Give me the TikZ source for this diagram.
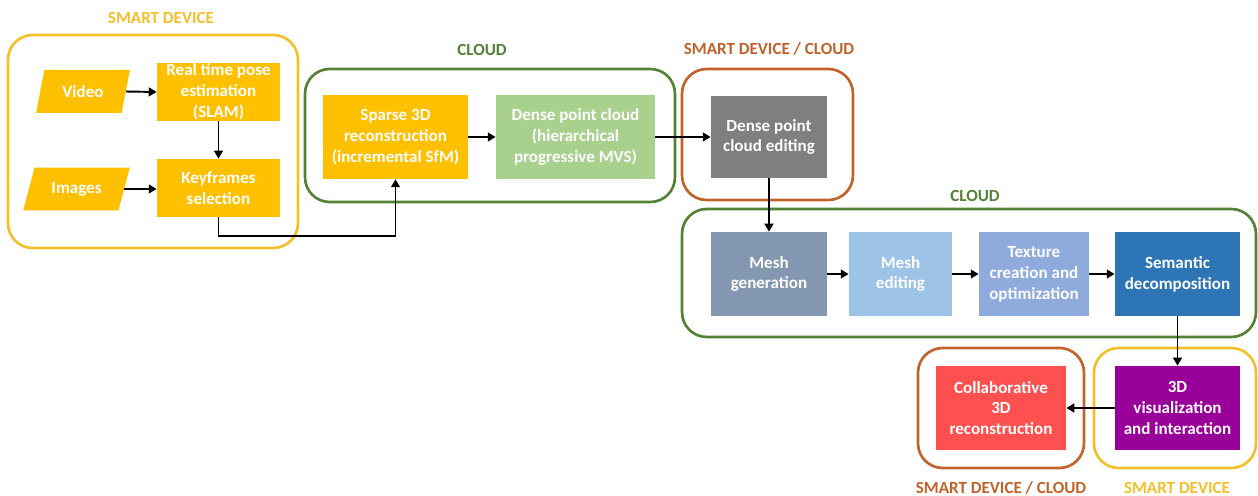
\documentclass[tikz,border=0pt]{standalone}
\usepackage{fontspec}
\setmainfont{Carlito}
\usetikzlibrary{arrows.meta, positioning, shapes.geometric}

\definecolor{devc}{HTML}{F4C02A}
\definecolor{cloudc}{HTML}{548235}
\definecolor{bothc}{HTML}{C0622A}
\definecolor{goldf}{HTML}{FFC000}
\definecolor{densef}{HTML}{A9D18E}
\definecolor{editf}{HTML}{7F7F7F}
\definecolor{meshf}{HTML}{8497B0}
\definecolor{medf}{HTML}{9DC3E6}
\definecolor{texf}{HTML}{8FAADC}
\definecolor{semf}{HTML}{2E75B6}
\definecolor{vizf}{HTML}{990099}
\definecolor{colf}{HTML}{FF5050}

\begin{document}
\begin{tikzpicture}[
  x=0.02cm, y=-0.02cm,
  font=\fontsize{9.7}{11.9}\selectfont\bfseries,
  group/.style={rectangle, rounded corners=14pt, draw=#1, line width=1.5pt},
  title/.style={text=#1, inner sep=0pt},
  box/.style={rectangle, fill=#1, text=white, align=center, inner sep=0pt,
              minimum height=1.68cm},
  input/.style={trapezium, trapezium stretches=true, fill=goldf, text=white,
                inner sep=0pt, minimum height=0.86cm},
  flow/.style={-{Triangle[length=4.5pt, width=5pt]}, line width=1.1pt, black},
]
\useasboundingbox (0,0) rectangle (1258,496);

% ---- Left group: smart device ----
\node[group=devc, minimum width=5.8cm, minimum height=4.26cm] (sd1) at (153,141.5) {};
\node[title=devc] (tsd1) at (161,18) {SMART DEVICE};
\node[input, minimum width=1.88cm, trapezium left angle=70, trapezium right angle=110] (vid) at (83,91.5) {Video};
\node[input, minimum width=2.14cm, trapezium left angle=64, trapezium right angle=116] (img) at (76.5,189) {Images};
\node[box=goldf, minimum width=2.46cm, minimum height=1.16cm] (pose) at (218.5,92) {Real time pose\\estimation\\(SLAM)};
\node[box=goldf, minimum width=2.46cm, minimum height=1.16cm] (key) at (218.5,188) {Keyframes\\selection};

% ---- Cloud: sparse + dense ----
\node[group=cloudc, minimum width=7.4cm, minimum height=2.66cm] (cl1) at (490,135.5) {};
\node[title=cloudc] (tcl1) at (482,50) {CLOUD};
\node[box=goldf, minimum width=2.9cm] (sparse) at (395.5,137) {Sparse 3D\\reconstruction\\(incremental SfM)};
\node[box=densef, minimum width=3.18cm] (dense) at (575.5,137) {Dense point cloud\\(hierarchical\\progressive MVS)};

% ---- Smart device / cloud: editing ----
\node[group=bothc, minimum width=3.42cm, minimum height=2.62cm] (mx1) at (767.5,134.5) {};
\node[title=bothc] (tmx1) at (769,49) {SMART DEVICE / CLOUD};
\node[box=editf, minimum width=2.32cm, minimum height=1.64cm] (edit) at (769,137) {Dense point\\cloud editing};

% ---- Cloud: mesh pipeline ----
\node[group=cloudc, minimum width=11.48cm, minimum height=2.56cm] (cl2) at (969,273) {};
\node[title=cloudc] (tcl2) at (975,196) {CLOUD};
\node[box=meshf, minimum width=2.32cm] (mgen) at (769,274) {Mesh\\generation};
\node[box=medf, minimum width=2.06cm] (medit) at (900.5,274) {Mesh\\editing};
\node[box=texf, minimum width=2.2cm] (tex) at (1034,274) {Texture\\creation and\\optimization};
\node[box=semf, minimum width=2.5cm] (sem) at (1177.5,274) {Semantic\\decomposition};

% ---- Bottom row ----
\node[group=bothc, minimum width=3.32cm, minimum height=2.4cm] (mx2) at (1001,408) {};
\node[title=bothc] (tmx2) at (1001,488) {SMART DEVICE / CLOUD};
\node[box=colf, minimum width=2.6cm] (collab) at (1001,408) {Collaborative\\3D\\reconstruction};
\node[group=devc, minimum width=3.24cm, minimum height=2.4cm] (sd2) at (1175,408) {};
\node[title=devc] (tsd2) at (1177,488) {SMART DEVICE};
\node[box=vizf, minimum width=2.5cm] (viz) at (1177.5,408) {3D\\visualization\\and interaction};

% ---- Connectors ----
\draw[flow] (vid.east) -- (pose.west);
\draw[flow] (img.east) -- (key.west |- img.east);
\draw[flow] (pose.south) -- (key.north);
\draw[flow] (key.south) -- ++(0,19) -| (sparse.south);
\draw[flow] (sparse) -- (dense);
\draw[flow] (dense) -- (edit);
\draw[flow] (edit) -- (mgen);
\draw[flow] (mgen) -- (medit);
\draw[flow] (medit) -- (tex);
\draw[flow] (tex) -- (sem);
\draw[flow] (sem) -- (viz);
\draw[flow] (viz) -- (collab);

\end{tikzpicture}
\end{document}
